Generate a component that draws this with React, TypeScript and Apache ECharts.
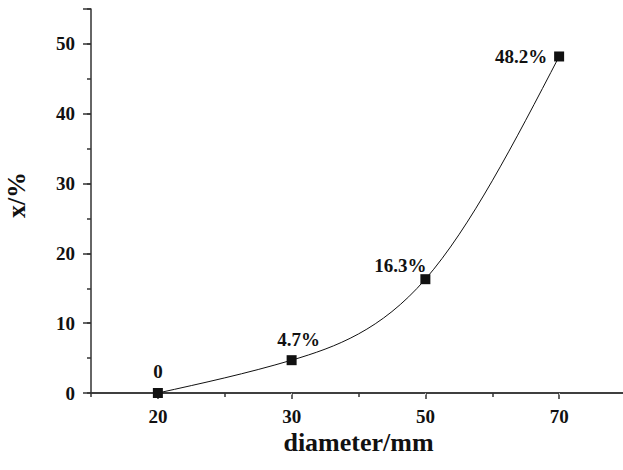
import React, { useEffect, useRef } from "react";
import * as echarts from "echarts";

const categories = ["20", "30", "50", "70"];
const values = [0, 4.7, 16.3, 48.2];
const pointLabels = ["0", "4.7%", "16.3%", "48.2%"];

const FONT = "'Liberation Serif', 'Times New Roman', serif";
const AXIS_COLOR = "#333";

// natural cubic spline through pixel points, returned as SVG path data
function splinePath(pts: number[][]): string {
  const n = pts.length;
  if (n < 2) return "";
  const x = pts.map((p) => p[0]);
  const y = pts.map((p) => p[1]);
  const h: number[] = [];
  for (let i = 0; i < n - 1; i++) h.push(x[i + 1] - x[i]);
  const a: number[] = new Array(n).fill(0);
  const b: number[] = new Array(n).fill(1);
  const c: number[] = new Array(n).fill(0);
  const d: number[] = new Array(n).fill(0);
  for (let i = 1; i < n - 1; i++) {
    a[i] = h[i - 1];
    b[i] = 2 * (h[i - 1] + h[i]);
    c[i] = h[i];
    d[i] = 6 * ((y[i + 1] - y[i]) / h[i] - (y[i] - y[i - 1]) / h[i - 1]);
  }
  const cp = new Array(n).fill(0);
  const dp = new Array(n).fill(0);
  cp[0] = c[0] / b[0];
  dp[0] = d[0] / b[0];
  for (let i = 1; i < n; i++) {
    const m = b[i] - a[i] * cp[i - 1];
    cp[i] = c[i] / m;
    dp[i] = (d[i] - a[i] * dp[i - 1]) / m;
  }
  const M = new Array(n).fill(0);
  M[n - 1] = dp[n - 1];
  for (let i = n - 2; i >= 0; i--) M[i] = dp[i] - cp[i] * M[i + 1];
  let path = `M${x[0]},${y[0]}`;
  for (let i = 0; i < n - 1; i++) {
    const hi = h[i];
    const s0 = (y[i + 1] - y[i]) / hi - (hi * (2 * M[i] + M[i + 1])) / 6;
    const s1 = (y[i + 1] - y[i]) / hi + (hi * (M[i] + 2 * M[i + 1])) / 6;
    const c1x = x[i] + hi / 3;
    const c1y = y[i] + (s0 * hi) / 3;
    const c2x = x[i + 1] - hi / 3;
    const c2y = y[i + 1] - (s1 * hi) / 3;
    path += ` C${c1x},${c1y} ${c2x},${c2y} ${x[i + 1]},${y[i + 1]}`;
  }
  return path;
}

export default function App() {
  const ref = useRef<HTMLDivElement>(null);

  useEffect(() => {
    document.body.style.margin = "0";
    if (!ref.current) return;
    const chart = echarts.init(ref.current, undefined, { renderer: "svg" });

    const labelCfg = [
      { position: "top", offset: [0, -2] },
      { position: "top", offset: [7, -1] },
      { position: "top", offset: [-25, 6] },
      { position: "left", distance: 7, offset: [0, 0] },
    ];

    chart.setOption({
      animation: false,
      backgroundColor: "#fff",
      grid: { left: 91, top: 9, right: -3, bottom: 77, outerBoundsMode: "none", containLabel: false },
      xAxis: [
        {
          type: "category",
          data: categories,
          boundaryGap: true,
          position: "bottom",
          name: "diameter/mm",
          nameLocation: "middle",
          nameGap: 36,
          nameMoveOverlap: false,
          nameTextStyle: { fontFamily: FONT, fontWeight: "bold", fontSize: 26, color: "#111" },
          axisLine: { show: true, lineStyle: { color: AXIS_COLOR, width: 1.5 } },
          axisTick: { show: true, alignWithLabel: true, interval: 0, length: 6, lineStyle: { color: AXIS_COLOR, width: 1.5 } },
          axisLabel: { fontFamily: FONT, fontWeight: "bold", fontSize: 19, color: "#111", margin: 14, interval: 0 },
          splitLine: { show: false },
        },
        {
          type: "category",
          data: categories,
          boundaryGap: true,
          position: "top",
          axisLine: { show: true, lineStyle: { color: AXIS_COLOR, width: 1.5 } },
          axisTick: { show: true, inside: true, alignWithLabel: true, interval: 0, length: 2, lineStyle: { color: "#bbb", width: 1 } },
          axisLabel: { show: false },
          splitLine: { show: false },
        },
        {
          type: "category",
          data: categories,
          boundaryGap: true,
          position: "bottom",
          axisLine: { show: false },
          axisTick: { show: true, alignWithLabel: false, interval: 0, length: 4, lineStyle: { color: AXIS_COLOR, width: 1.5 } },
          axisLabel: { show: false },
          splitLine: { show: false },
        },
      ],
      yAxis: [
        {
          type: "value",
          min: 0,
          max: 55,
          interval: 10,
          position: "left",
          name: "x/%",
          nameLocation: "middle",
          nameGap: 62,
          nameMoveOverlap: false,
          nameRotate: 90,
          nameTextStyle: { fontFamily: FONT, fontWeight: "bold", fontSize: 26, color: "#111", padding: [0, 0, 0, 12] },
          axisLine: { show: true, lineStyle: { color: AXIS_COLOR, width: 1.5 } },
          axisTick: { show: true, length: 8, lineStyle: { color: AXIS_COLOR, width: 1.5 } },
          axisLabel: {
            fontFamily: FONT,
            fontWeight: "bold",
            fontSize: 19,
            color: "#111",
            margin: 16,
            formatter: (v: number) => (v === 55 ? "" : String(v)),
          },
          splitLine: { show: false },
        },
        {
          type: "value",
          min: 0,
          max: 55,
          interval: 5,
          position: "left",
          axisLine: { show: false },
          axisTick: { show: true, length: 4, lineStyle: { color: AXIS_COLOR, width: 1.5 } },
          axisLabel: { show: false },
          splitLine: { show: false },
        },
      ],
      series: [
        {
          type: "custom",
          xAxisIndex: 0,
          yAxisIndex: 0,
          data: values.map((v, i) => [i, v]),
          renderItem: (params: any, api: any) => {
            if (params.dataIndex !== 0) return null;
            const pts = values.map((v, i) => api.coord([i, v]));
            return {
              type: "path",
              shape: { pathData: splinePath(pts) },
              style: { fill: "none", stroke: "#111", lineWidth: 1 },
              silent: true,
            };
          },
          z: 2,
        },
        {
          type: "scatter",
          xAxisIndex: 0,
          yAxisIndex: 0,
          data: values.map((v, i) => ({
            value: [i, v],
            label: {
              show: true,
              formatter: pointLabels[i],
              ...labelCfg[i],
            },
          })),
          symbol: "rect",
          symbolSize: 10,
          itemStyle: { color: "#111", opacity: 1 },
          label: {
            show: true,
            fontFamily: FONT,
            fontWeight: "bold",
            fontSize: 19,
            color: "#111",
            opacity: 1,
          },
          z: 3,
        },
      ],
    });

    return () => chart.dispose();
  }, []);

  return <div ref={ref} style={{ width: 623, height: 470 }} />;
}
